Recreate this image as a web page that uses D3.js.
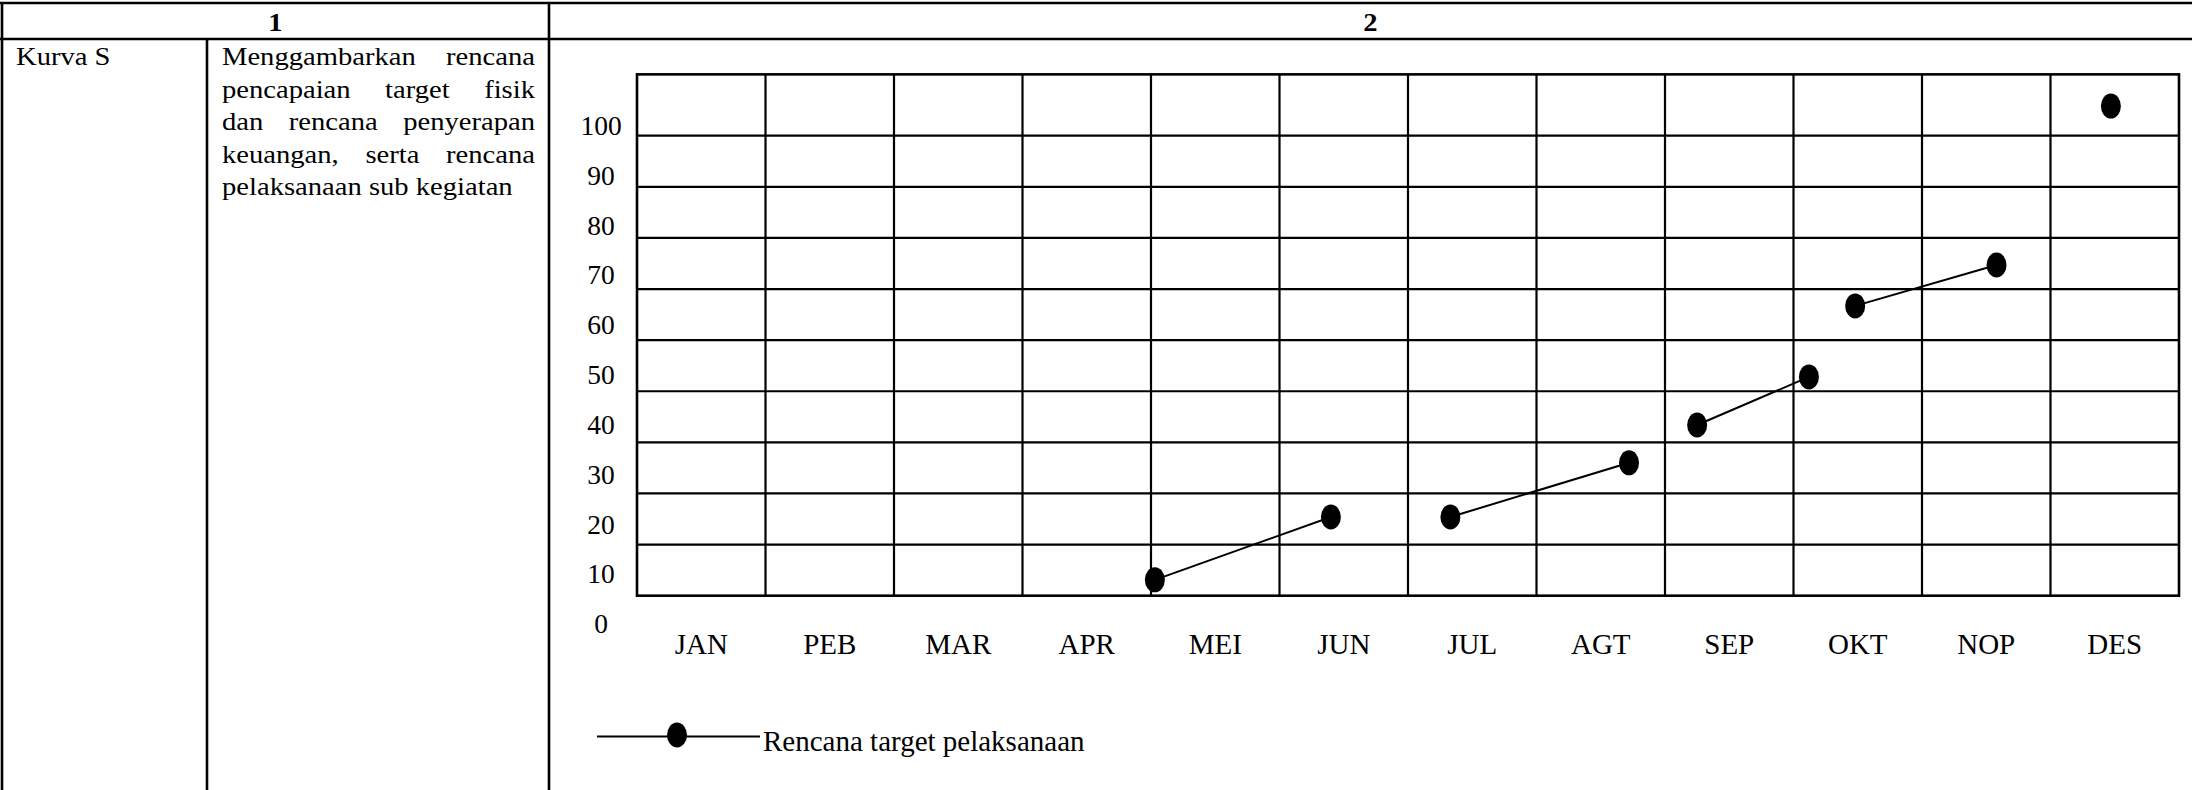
<!DOCTYPE html>
<html>
<head>
<meta charset="utf-8">
<script src="https://cdn.jsdelivr.net/npm/d3@7"></script>
<style>
  html, body { margin: 0; padding: 0; background: #fff; }
  svg { display: block; }
  text { font-family: "Liberation Serif", "Times New Roman", serif; fill: #000; }
</style>
</head>
<body>
<div class="chart-holder"></div>
<script>
// data
const months = ["JAN", "PEB", "MAR", "APR", "MEI", "JUN", "JUL", "AGT", "SEP", "OKT", "NOP", "DES"];
const yTicks = [0, 10, 20, 30, 40, 50, 60, 70, 80, 90, 100];
const gridRows = [20, 30, 40, 50, 60, 70, 80, 90, 100];
// month position (0 = start of JAN) and percentage of each plan point
const planX = [4.03, 5.40, 6.33, 7.72, 8.25, 9.12, 9.48, 10.58, 11.47];
const planY = [13.1, 25.4, 25.4, 36.0, 43.4, 52.8, 66.7, 74.7, 105.8];
// points are joined two by two, the last one stands alone
const planSeg = [0, 0, 1, 1, 2, 2, 3, 3, 4];
const headers = ["1", "2"];
const rowLabel = "Kurva S";
const descLines = [
  "Menggambarkan rencana",
  "pencapaian target fisik",
  "dan rencana penyerapan",
  "keuangan, serta rencana",
  "pelaksanaan sub kegiatan"
];
const legendLabel = "Rencana target pelaksanaan";

function controller() {
  const height = 790;
  const width = 2192;
  const fs = 26;   // table font size
  const sx = 1.1;  // table text is a bit wider than tall in the scan

  const svg = d3.select(".chart-holder")
    .append("svg")
    .attr("width", width)
    .attr("height", height)
    .attr("viewBox", `0 0 ${width} ${height}`);

  // ---- table frame
  const colA = 207, colB = 549;
  const tbl = svg.append("g")
    .attr("stroke", "#000")
    .attr("stroke-width", 2.6);
  tbl.append("line").attr("x1", 0).attr("x2", width).attr("y1", 3).attr("y2", 3);
  tbl.append("line").attr("x1", 0).attr("x2", width).attr("y1", 39).attr("y2", 39);
  tbl.append("line").attr("x1", 2).attr("x2", 2).attr("y1", 2).attr("y2", height);
  tbl.append("line").attr("x1", colB).attr("x2", colB).attr("y1", 2).attr("y2", height);
  tbl.append("line").attr("x1", colA).attr("x2", colA).attr("y1", 39).attr("y2", height);

  const scaled = (g, x, y) => g.attr("transform", `translate(${x},${y}) scale(${sx},1)`);

  svg.selectAll(".hdr")
    .data(headers)
    .join("text")
    .attr("class", "hdr")
    .attr("text-anchor", "middle")
    .attr("font-weight", "bold")
    .attr("font-size", fs)
    .text(d => d)
    .each(function (d, i) {
      scaled(d3.select(this), i === 0 ? (2 + colB) / 2 : (colB + width) / 2, 31);
    });

  scaled(svg.append("text").attr("font-size", fs).text(rowLabel), 16, 65);

  // justified description column
  const left = 222, right = 535;
  descLines.forEach((line, li) => {
    const y = 65 + li * 32.5;
    const words = line.split(" ");
    const nodes = words.map(w => svg.append("text").attr("font-size", fs).text(w));
    const widths = nodes.map(n => n.node().getComputedTextLength() * sx);
    const total = d3.sum(widths);
    const last = li === descLines.length - 1;
    const gap = last ? 0.25 * fs * sx : (right - left - total) / (words.length - 1);
    let x = left;
    nodes.forEach((n, i) => {
      scaled(n, x, y);
      x += widths[i] + gap;
    });
  });

  // ---- chart
  const x = d3.scaleLinear().domain([0, 12]).range([637, 2179]);
  const y = d3.scaleLinear().domain([0, 100]).range([646.8, 135.7]);
  const yLabel = d3.scaleLinear().domain([0, 100]).range([633.3, 135]);
  const yTop = 112, yBottom = 10;

  const grid = svg.append("g")
    .attr("stroke", "#000")
    .attr("stroke-width", 2.2)
    .attr("fill", "none");

  grid.selectAll(".hline")
    .data(gridRows)
    .join("line")
    .attr("class", "hline")
    .attr("x1", x(0)).attr("x2", x(12))
    .attr("y1", d => y(d)).attr("y2", d => y(d));

  grid.selectAll(".vline")
    .data(d3.range(1, 12))
    .join("line")
    .attr("class", "vline")
    .attr("x1", d => x(d)).attr("x2", d => x(d))
    .attr("y1", y(yTop)).attr("y2", y(yBottom));

  grid.append("rect")
    .attr("x", x(0))
    .attr("y", y(yTop))
    .attr("width", x(12) - x(0))
    .attr("height", y(yBottom) - y(yTop))
    .attr("stroke-width", 2.6);

  svg.selectAll(".ytick")
    .data(yTicks)
    .join("text")
    .attr("class", "ytick")
    .attr("x", 601)
    .attr("y", d => yLabel(d))
    .attr("text-anchor", "middle")
    .attr("font-size", 27.5)
    .text(d => d);

  svg.selectAll(".month")
    .data(months)
    .join("text")
    .attr("class", "month")
    .attr("x", (d, i) => x(i + 0.5))
    .attr("y", 654)
    .attr("text-anchor", "middle")
    .attr("font-size", 29)
    .text(d => d);

  // plan points and their connecting segments
  const pts = planX.map((d, i) => ({ x: planX[i], v: planY[i], seg: planSeg[i] }));
  const segs = d3.groups(pts, d => d.seg).map(g => g[1]).filter(g => g.length > 1);
  const line = d3.line().x(d => x(d.x)).y(d => y(d.v));

  svg.selectAll(".seg")
    .data(segs)
    .join("path")
    .attr("class", "seg")
    .attr("d", line)
    .attr("fill", "none")
    .attr("stroke", "#000")
    .attr("stroke-width", 2);

  svg.selectAll(".dot")
    .data(pts)
    .join("ellipse")
    .attr("class", "dot")
    .attr("cx", d => x(d.x))
    .attr("cy", d => y(d.v))
    .attr("rx", 10)
    .attr("ry", 12.5)
    .attr("fill", "#000");

  // ---- legend
  const lg = svg.append("g");
  lg.append("line")
    .attr("x1", 597).attr("x2", 760)
    .attr("y1", 736.5).attr("y2", 736.5)
    .attr("stroke", "#000")
    .attr("stroke-width", 2.2);
  lg.append("ellipse")
    .attr("cx", 677).attr("cy", 735)
    .attr("rx", 10).attr("ry", 12.5)
    .attr("fill", "#000");
  lg.append("text")
    .attr("x", 763)
    .attr("y", 751)
    .attr("font-size", 29)
    .text(legendLabel);
}

controller();
</script>
</body>
</html>
